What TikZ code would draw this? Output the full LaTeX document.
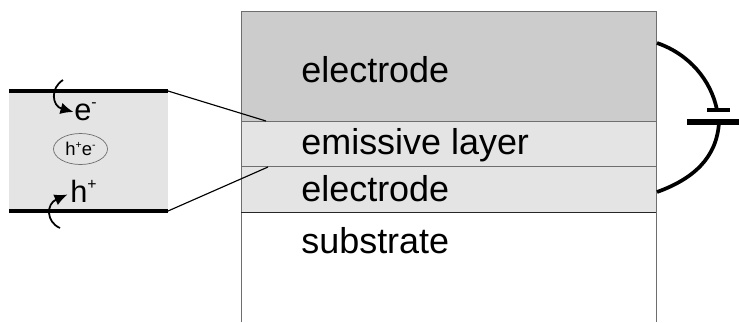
\documentclass[tikz,border=0pt]{standalone}
\usepackage{fontspec}
\setmainfont{Liberation Sans}
\usetikzlibrary{arrows.meta,shapes.geometric}
\definecolor{dunkel}{HTML}{CCCCCC}
\definecolor{hell}{HTML}{E4E4E4}
\definecolor{rand}{HTML}{6E6E6E}
\newcommand{\hoch}[1]{\raisebox{0.42em}{\fontsize{9}{10}\selectfont #1}}
\newcommand{\klein}[1]{\raisebox{0.42em}{\fontsize{6}{7}\selectfont #1}}
\tikzset{
  schicht/.style={rand,line width=0.5pt},
  etikett/.style={anchor=base west,inner sep=0pt,font=\fontsize{20.45}{24}\selectfont},
  ladung/.style={anchor=base west,inner sep=0pt,font=\fontsize{17.5}{20}\selectfont},
  paarform/.style={draw=rand,ellipse,line width=0.4pt,inner sep=0pt,minimum width=1.08cm,minimum height=0.62cm,font=\fontsize{10.5}{12}\selectfont},
  balken/.style={black,line width=2pt},
  lupe/.style={black,line width=0.65pt},
  pfeil/.style={-{Latex[length=2.6mm,width=2.3mm]},black,line width=1pt},
  draht/.style={black,line width=2.1pt},
}
\begin{document}
\begin{tikzpicture}[x=0.2mm,y=-0.2mm]
  \useasboundingbox (0,0) rectangle (739,322);
  % ===== rechts: Schichten =====
  \fill[dunkel] (241,11) rectangle (656,121.5);
  \fill[hell] (241,121.5) rectangle (656,212);
  \draw[schicht] (241,322)--(241,11)--(656,11)--(656,322);
  \draw[schicht] (241,121.5)--(656,121.5);
  \draw[schicht] (241,166)--(656,166);
  \draw[black!85,line width=0.5pt] (241,212)--(656,212);
  \node[etikett] (oben) at (301,82) {electrode};
  \node[etikett] (emitter) at (301,154) {emissive layer};
  \node[etikett] (unten) at (301,201) {electrode};
  \node[etikett] (substrat) at (301,253) {substrate};
  % ===== links: Ausschnitt =====
  \fill[hell] (9,91) rectangle (168,211);
  \draw[balken] (9,91)--(168,91);
  \draw[balken] (9,211)--(168,211);
  \coordinate (a1) at (168,91);
  \coordinate (a2) at (266,121);
  \coordinate (b1) at (168,211);
  \coordinate (b2) at (268,167);
  \draw[lupe] (a1)--(a2);
  \draw[lupe] (b1)--(b2);
  \node[paarform] (paar) at (80.5,149) {h\klein{+}e\klein{-}};
  \node[ladung] (elektron) at (74,120.5) {e\hoch{-}};
  \node[ladung] (loch) at (70,202) {h\hoch{+}};
  \coordinate (e0) at (63,80);
  \coordinate (e1) at (73.5,112);
  \coordinate (h0) at (60,228);
  \coordinate (h1) at (67.5,194.5);
  \draw[pfeil] (e0) .. controls (50,88) and (52,106) .. (e1);
  \draw[pfeil] (h0) .. controls (46,222) and (46,204) .. (h1);
  % ===== Batterie =====
  \coordinate (k1) at (657,43);
  \coordinate (k2) at (657,192);
  \coordinate (p1) at (717,110);
  \coordinate (p2) at (719,122);
  \draw[draht] (k1) .. controls (689,54) and (711,80) .. (p1);
  \draw[draht] (k2) .. controls (693,179) and (717,158) .. (p2);
  \draw[black,line width=2.3pt] (707,110)--(730,110);
  \draw[black,line width=2.9pt] (687,122)--(739,122);
\end{tikzpicture}
\end{document}
